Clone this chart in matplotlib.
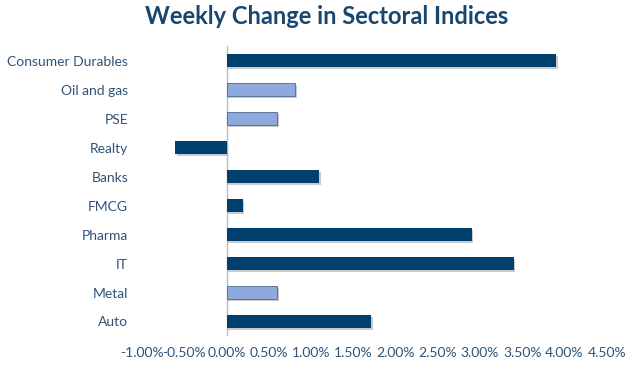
import matplotlib
matplotlib.use('AGG')
import matplotlib.pyplot as plt
import matplotlib.patheffects as pe
from matplotlib.ticker import FuncFormatter

sectors = ['Auto', 'Metal', 'IT', 'Pharma', 'FMCG', 'Banks', 'Realty', 'PSE', 'Oil and gas', 'Consumer Durables']
changes = [1.71, 0.60, 3.40, 2.90, 0.19, 1.10, -0.61, 0.60, 0.81, 3.90]
highlight = [False, True, False, False, False, False, False, True, True, False]

dark = '#003F6E'
light = '#8EA9DB'
text_col = '#2F5478'

plt.rcParams['font.family'] = ['Lato', 'DejaVu Sans']

fig = plt.figure(figsize=(6.4, 3.66), dpi=100)
ax = fig.add_axes([0.222, 0.082, 0.726, 0.792])

colors = [light if h else dark for h in highlight]
bars = ax.barh(sectors, changes, height=0.45, color=colors, zorder=3)
for b, h in zip(bars, highlight):
    if h:
        b.set_edgecolor('#4A6A90')
        b.set_linewidth(0.6)
    b.set_path_effects([pe.SimplePatchShadow(offset=(1.2, -1.2), shadow_rgbFace='#999999', alpha=0.5), pe.Normal()])

ax.set_xlim(-1.0, 4.5)
ax.set_ylim(-0.5, len(sectors) - 0.5)
ax.set_xticks([-1.0, -0.5, 0, 0.5, 1.0, 1.5, 2.0, 2.5, 3.0, 3.5, 4.0, 4.5])
ax.xaxis.set_major_formatter(FuncFormatter(lambda v, p: '%.2f%%' % v))
ax.axvline(0, color='#BBBBBB', lw=1, zorder=2)

for s in ax.spines.values():
    s.set_visible(False)
ax.tick_params(axis='both', length=0, labelsize=10, labelcolor=text_col)
ax.tick_params(axis='x', pad=8)
ax.tick_params(axis='y', pad=10)

fig.text(0.51, 0.955, 'Weekly Change in Sectoral Indices', ha='center', va='center',
         fontsize=17, fontweight='bold', color='#17466E')

fig.savefig('out.png', dpi=100)
